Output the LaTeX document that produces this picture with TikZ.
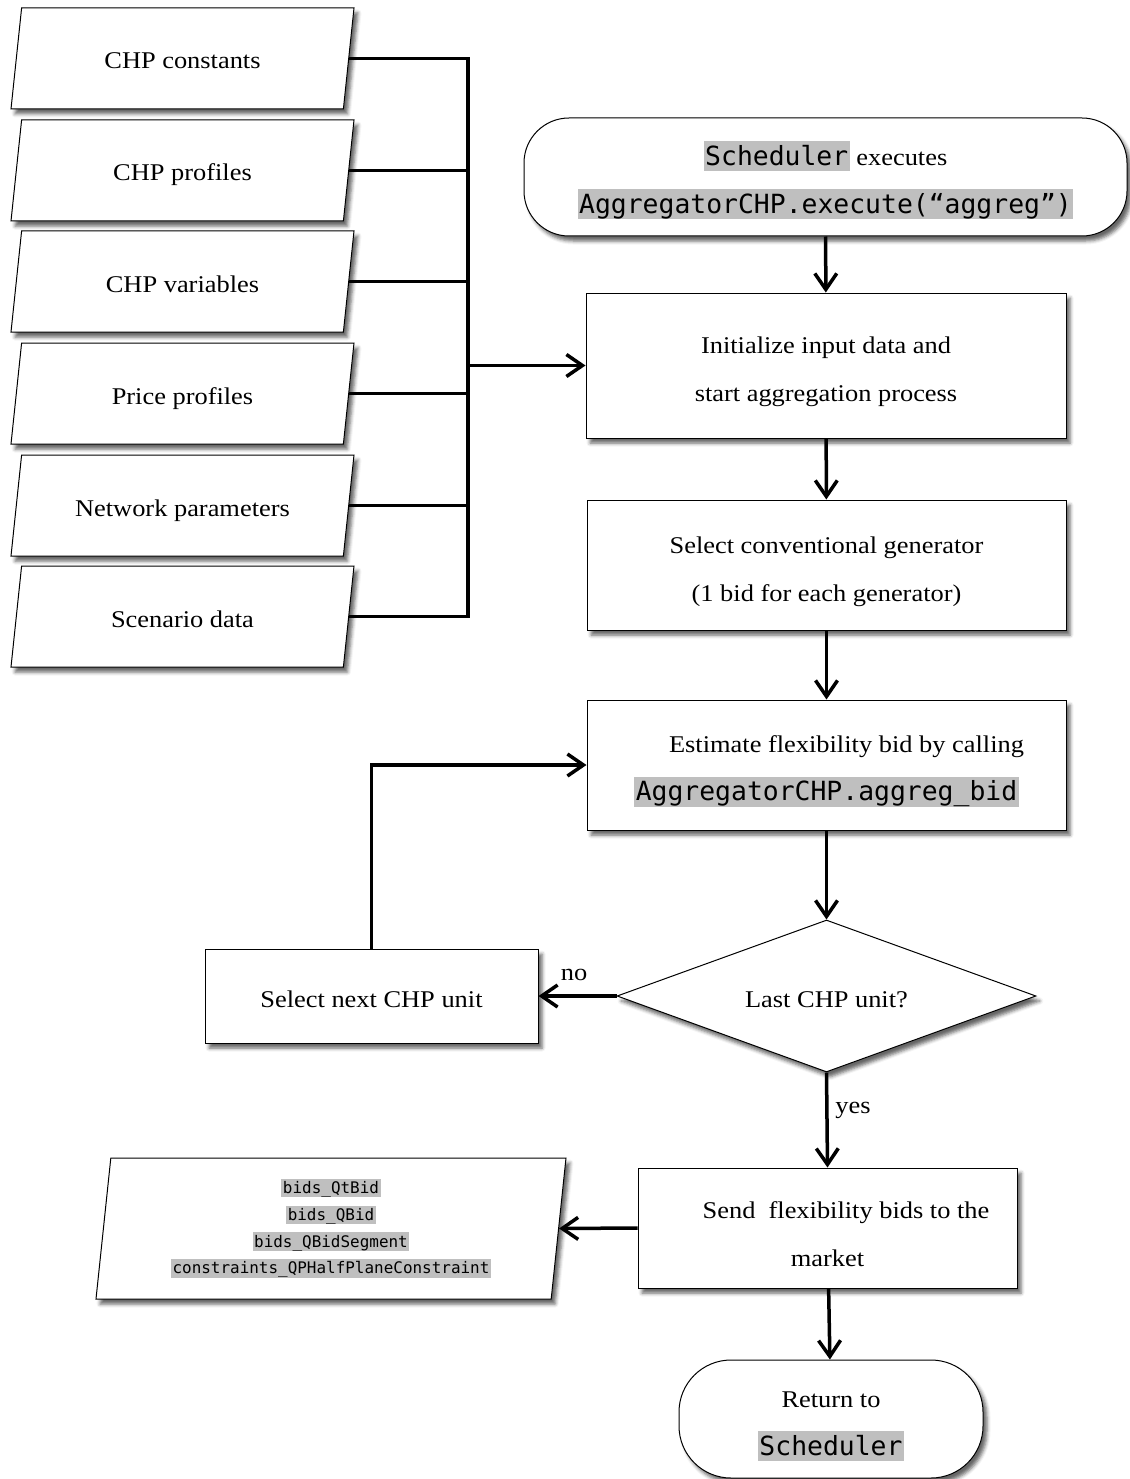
\documentclass[tikz,border=0pt]{standalone}
\usepackage{fontspec}
\setmainfont{Liberation Serif}[FakeStretch=1.1]
\setmonofont{DejaVu Sans Mono}[Scale=1.1]
\usetikzlibrary{shapes.geometric,arrows.meta,shadows.blur}

\definecolor{hlgray}{gray}{0.75}
\newcommand{\hlcode}[1]{{\setlength{\fboxsep}{0pt}\colorbox{hlgray}{\ttfamily\vrule width0pt height.92em depth.22em\kern1.5pt#1\kern1.5pt}}}
\newcommand{\topstrut}{\rule{0pt}{30pt}}

\tikzset{
    base/.style={draw, fill=white, line width=1pt, inner sep=0pt,
        font=\fontsize{24}{48}\selectfont,
        execute at begin node={\rule{0pt}{24pt}},
        blur shadow={shadow xshift=4pt, shadow yshift=-5pt, shadow blur radius=3.5pt, shadow opacity=60}},
    process/.style={base, rectangle, align=center},
    terminal/.style={base, rectangle, align=center, rounded corners=45pt},
    datain/.style={base, trapezium, trapezium left angle=84, trapezium right angle=96,
        trapezium stretches body, execute at begin node={}, text height=61pt, text depth=40pt},
    decision/.style={base, diamond, aspect=2.76},
    flow/.style={line width=3.5pt, -{Straight Barb[length=16pt,width=22pt]}},
    bus/.style={line width=3.5pt},
    lbl/.style={font=\fontsize{24}{28}\selectfont}
}

\begin{document}
\begin{tikzpicture}[x=1pt, y=-1pt]
    \useasboundingbox (0,0) rectangle (1129,1479);

    % input data
    \begin{scope}[
            every node/.style={datain, minimum width=343pt}
        ]
        \node (c1) at (182.5,58.5) {CHP constants};
        \node (c2) at (182.5,170.5) {CHP profiles};
        \node (c3) at (182.5,281.5) {CHP variables};
        \node (c4) at (182.5,393.5) {Price profiles};
        \node (c5) at (182.5,505.5) {Network parameters};
        \node (c6) at (182.5,616.5) {Scenario data};
    \end{scope}

    % main flow
    \node[terminal, minimum width=603pt, minimum height=118pt] (start) at (825.5,177)
        {\topstrut\hlcode{Scheduler} executes\\\hlcode{AggregatorCHP.execute(“aggreg”)}};
    \node[process, minimum width=480pt, minimum height=145pt] (init) at (826,365.5)
        {\topstrut Initialize input data and\\start aggregation process};
    \node[process, minimum width=479pt, minimum height=130pt] (selgen) at (826.5,565)
        {\topstrut Select conventional generator\\(1 bid for each generator)};
    \node[process, minimum width=479pt, minimum height=130pt] (est) at (826.5,765)
        {\topstrut\hspace*{40pt}Estimate flexibility bid by calling\\\hlcode{AggregatorCHP.aggreg\_bid}};
    \node[decision, minimum width=419pt, minimum height=152pt] (last) at (826.5,996)
        {Last CHP unit?};
    \node[process, minimum width=333pt, minimum height=94pt] (next) at (371.5,996)
        {Select next CHP unit};
    \node[process, minimum width=379pt, minimum height=120pt] (send) at (827.5,1228)
        {\topstrut\hspace*{37pt}Send\ \ flexibility bids to the\\market};
    \node[datain, minimum width=470pt, text height=74pt, text depth=67pt,
          font=\fontsize{14.5}{26.7}\selectfont] (out) at (331,1228.5)
        {\begin{tabular}{@{}c@{}}
            \hlcode{bids\_QtBid}\\\hlcode{bids\_QBid}\\\hlcode{bids\_QBidSegment}\\\hlcode{constraints\_QPHalfPlaneConstraint}
        \end{tabular}};
    \node[terminal, minimum width=304pt, minimum height=118pt, rounded corners=52pt] (ret) at (831,1419)
        {\topstrut Return to\\\hlcode{Scheduler}};

    \node[lbl] (no) at (574,975) {no};
    \node[lbl] (yes) at (853,1110) {yes};

    % collecting the inputs
    \coordinate (jn) at (468,365.5);
    \draw[bus] (c1.east) -| (c6.east -| jn) -- (c6.east);
    \draw[bus] (c2.east) -- (c2.east -| jn);
    \draw[bus] (c3.east) -- (c3.east -| jn);
    \draw[bus] (c4.east) -- (c4.east -| jn);
    \draw[bus] (c5.east) -- (c5.east -| jn);
    \draw[flow] (jn) -- (init);

    \draw[flow] (start) -- (init);
    \draw[flow] (init) -- (selgen);
    \draw[flow] (selgen) -- (est);
    \draw[flow] (est) -- (last);
    \draw[flow] (last.west) -- (next.east);
    \draw[flow] (next.north) |- (est.west);
    \draw[flow] (last.south) -- (send.north);
    \draw[flow] (send.west) -- (out.east);
    \draw[flow] (send) -- (ret);
\end{tikzpicture}
\end{document}
